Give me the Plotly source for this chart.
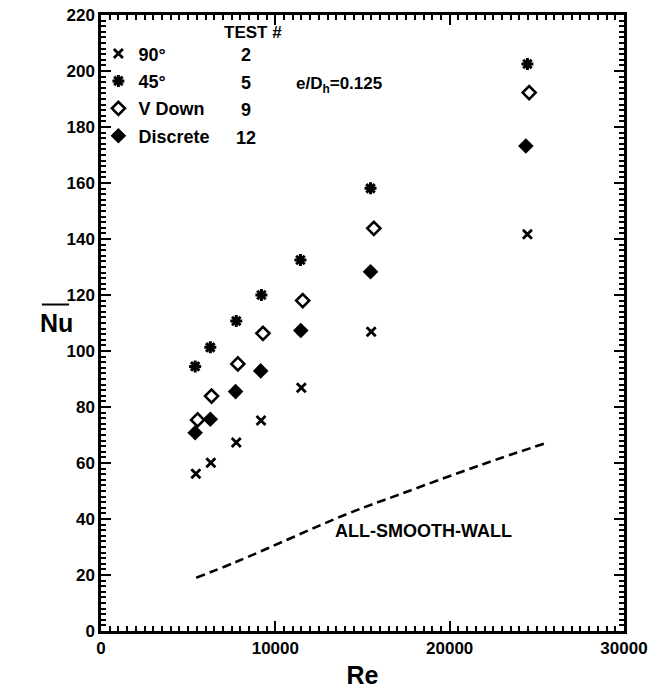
import plotly.graph_objects as go

# Data
re_90 = [5440, 6300, 7760, 9180, 11490, 15500, 24460]
nu_90 = [56.2, 60.1, 67.3, 75.2, 86.9, 106.9, 141.7]
re_45 = [5400, 6270, 7760, 9200, 11440, 15460, 24460]
nu_45 = [94.5, 101.3, 110.7, 120.0, 132.5, 158.1, 202.5]
re_vd = [5540, 6340, 7850, 9290, 11570, 15650, 24560]
nu_vd = [75.4, 83.9, 95.4, 106.3, 118.0, 143.8, 192.3]
re_disc = [5400, 6270, 7720, 9160, 11460, 15460, 24370]
nu_disc = [70.8, 75.6, 85.5, 92.9, 107.3, 128.3, 173.2]
re_smooth = [5460, 7800, 14120, 17180, 21780, 25610]
nu_smooth = [19.0, 24.8, 41.8, 48.9, 59.3, 67.3]

series_names = ["90°", "45°", "V Down", "Discrete"]
test_numbers = ["2", "5", "9", "12"]

FONT = "Liberation Sans"

fig = go.Figure()
fig.add_trace(go.Scatter(x=re_90, y=nu_90, mode="markers", name=series_names[0],
                         legendgroup="a",
                         marker=dict(symbol="x-thin-open", size=9, color="black",
                                     line=dict(width=2.8, color="black"))))
fig.add_trace(go.Scatter(x=re_45, y=nu_45, mode="markers", name=series_names[1],
                         legendgroup="b",
                         marker=dict(symbol="asterisk-open", size=10, color="black",
                                     line=dict(width=3, color="black"))))
fig.add_trace(go.Scatter(x=re_vd, y=nu_vd, mode="markers", name=series_names[2],
                         legendgroup="c",
                         marker=dict(symbol="diamond-open", size=10, color="black",
                                     line=dict(width=2.6, color="black"))))
fig.add_trace(go.Scatter(x=re_disc, y=nu_disc, mode="markers", name=series_names[3],
                         legendgroup="d",
                         marker=dict(symbol="diamond", size=12, color="black",
                                     line=dict(width=0))))
fig.add_trace(go.Scatter(x=re_smooth, y=nu_smooth, mode="lines", showlegend=False,
                         line=dict(color="black", width=2.6, dash="9px,5px", shape="spline")))

ann = []
ann.append(dict(text="TEST #", xref="paper", yref="paper", x=0.291, y=0.972,
                xanchor="center", yanchor="middle",
                showarrow=False, font=dict(size=17, family=FONT, weight="bold")))
row_y = [0.935, 0.890, 0.846, 0.801]
for t, yy in zip(test_numbers, row_y):
    ann.append(dict(text=t, xref="paper", yref="paper", x=0.277, y=yy,
                    xanchor="center", yanchor="middle",
                    showarrow=False, font=dict(size=18, family=FONT, weight="bold")))
ann.append(dict(text="e/D<sub>h</sub>=0.125", xref="paper", yref="paper", x=0.369, y=0.886,
                xanchor="left", yanchor="middle", showarrow=False,
                font=dict(size=17, family=FONT, weight="bold")))
ann.append(dict(text="ALL-SMOOTH-WALL", x=18500, y=35.7, showarrow=False,
                xanchor="center", yanchor="middle",
                font=dict(size=18, family=FONT, weight="bold")))
ann.append(dict(text="Nu", xref="paper", yref="paper", x=-0.086, y=0.5,
                xanchor="center", yanchor="middle",
                showarrow=False, font=dict(size=25, family=FONT, weight="bold")))

fig.update_layout(
    width=657, height=696,
    margin=dict(l=101, r=33, t=15, b=65, autoexpand=False),
    paper_bgcolor="white", plot_bgcolor="white",
    font=dict(family=FONT, color="black", weight="bold"),
    showlegend=True,
    legend=dict(x=-0.005, y=0.967, xanchor="left", yanchor="top",
                bgcolor="rgba(0,0,0,0)", tracegroupgap=1,
                font=dict(size=18, family=FONT, weight="bold")),
    annotations=ann,
    shapes=[dict(type="line", xref="paper", yref="paper", x0=-0.113, x1=-0.061,
                 y0=0.530, y1=0.530, line=dict(color="black", width=2))],
    xaxis=dict(range=[0, 30000], tickmode="linear", dtick=10000, tick0=0,
               tickformat="d", ticks="inside", ticklen=10,
               tickwidth=2, tickcolor="black", showline=True, linewidth=2.5,
               linecolor="black", mirror="allticks", showgrid=False, zeroline=False,
               automargin=False,
               tickfont=dict(size=17, family=FONT, weight="bold"),
               minor=dict(tickmode="linear", tick0=0, dtick=500, ticks="inside",
                          ticklen=5, tickwidth=2, tickcolor="black", showgrid=False),
               title=dict(text="Re", font=dict(size=25, family=FONT, weight="bold"),
                          standoff=10)),
    yaxis=dict(range=[0, 220], tickmode="linear", dtick=20, tick0=0,
               ticks="inside", ticklen=10,
               tickwidth=2, tickcolor="black", showline=True, linewidth=2.5,
               linecolor="black", mirror="allticks", showgrid=False, zeroline=False,
               automargin=False,
               tickfont=dict(size=17, family=FONT, weight="bold"),
               minor=dict(tickmode="linear", tick0=0, dtick=2, ticks="inside",
                          ticklen=5, tickwidth=2, tickcolor="black", showgrid=False)),
)

fig.write_html("out.html")
